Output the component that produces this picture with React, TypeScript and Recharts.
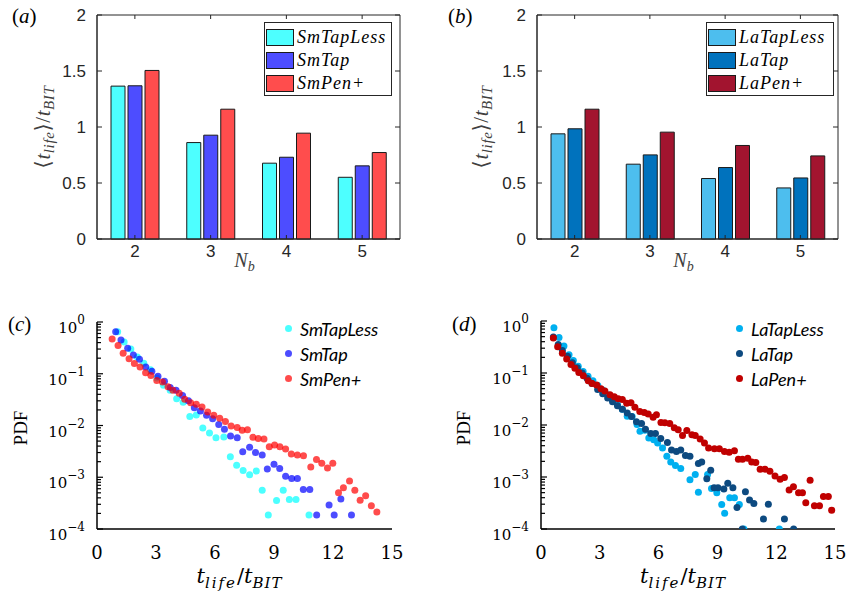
import React from 'react';
import { BarChart, Bar, XAxis, YAxis, ScatterChart, Scatter, Label, ReferenceArea } from 'recharts';

// mean lifetime per bubble count (panels a, b)
const nbCategories = ['2', '3', '4', '5'];
const smTapLessMean = [1.365, 0.861, 0.677, 0.551];
const smTapMean = [1.368, 0.927, 0.73, 0.653];
const smPenMean = [1.505, 1.159, 0.945, 0.772];
const laTapLessMean = [0.939, 0.668, 0.54, 0.456];
const laTapMean = [0.984, 0.751, 0.638, 0.545];
const laPenMean = [1.159, 0.954, 0.835, 0.742];
const meanTicks = [0, 0.5, 1, 1.5, 2];

// lifetime PDFs (panels c, d): [t_life/t_BIT, PDF]
const smTapLessPdf: [number, number][] = [
  [1.05, 0.65], [1.38, 0.41], [1.72, 0.3], [2.05, 0.21], [2.38, 0.16], [2.72, 0.12], [3.05, 0.083],
  [3.38, 0.06], [3.72, 0.048], [4.05, 0.033], [4.38, 0.028], [4.72, 0.015], [5.05, 0.016], [5.38, 0.0089],
  [5.72, 0.0072], [6.05, 0.0058], [6.45, 0.006], [6.78, 0.0025], [7.1, 0.0017], [7.43, 0.00135],
  [7.76, 0.00112], [8.1, 0.00132], [8.4, 0.00056], [8.71, 0.000186], [9.13, 0.000355], [9.47, 0.00056],
  [9.78, 0.00037], [10.12, 0.00037], [10.78, 0.000186],
];
const smTapPdf: [number, number][] = [
  [0.95, 0.65], [1.22, 0.45], [1.56, 0.31], [1.85, 0.23], [2.16, 0.19], [2.48, 0.135], [2.79, 0.112],
  [3.1, 0.089], [3.43, 0.072], [3.72, 0.054], [4.02, 0.048], [4.35, 0.038], [4.65, 0.03], [4.95, 0.022],
  [5.26, 0.019], [5.57, 0.0158], [5.88, 0.0135], [6.19, 0.0105], [6.48, 0.0085], [6.79, 0.0063],
  [7.13, 0.0058], [7.41, 0.0031], [7.76, 0.0038], [8.06, 0.003], [8.4, 0.0027], [8.66, 0.00145],
  [9.0, 0.00178], [9.29, 0.00148], [9.59, 0.00105], [9.9, 0.00095], [10.19, 0.00095], [10.49, 0.00058],
  [10.82, 0.00058], [11.17, 0.000186], [11.8, 0.00029], [12.06, 0.000186], [12.4, 0.00038], [12.94, 0.000186],
];
const smPenPdf: [number, number][] = [
  [0.77, 0.47], [1.07, 0.35], [1.33, 0.25], [1.63, 0.195], [1.9, 0.158], [2.19, 0.135], [2.47, 0.105],
  [2.74, 0.093], [3.04, 0.074], [3.33, 0.069], [3.61, 0.056], [3.86, 0.048], [4.18, 0.042], [4.46, 0.032],
  [4.76, 0.0275], [5.05, 0.0257], [5.34, 0.0229], [5.63, 0.0182], [5.94, 0.0158], [6.24, 0.0138],
  [6.53, 0.012], [6.82, 0.0098], [7.13, 0.0091], [7.38, 0.0081], [7.65, 0.0083], [7.93, 0.0059],
  [8.2, 0.0056], [8.49, 0.0055], [8.76, 0.0039], [9.03, 0.0042], [9.3, 0.0039], [9.59, 0.0035],
  [9.88, 0.0028], [10.19, 0.0027], [10.5, 0.0026], [10.87, 0.00158], [11.16, 0.0022], [11.43, 0.00186],
  [11.72, 0.00151], [11.99, 0.00186], [12.28, 0.0005], [12.53, 0.00063], [12.84, 0.00085], [13.11, 0.00056],
  [13.38, 0.00036], [13.66, 0.00044], [13.95, 0.00028], [14.23, 0.000214],
];
const laTapLessPdf: [number, number][] = [
  [0.66, 0.74], [0.92, 0.48], [1.17, 0.33], [1.43, 0.224], [1.65, 0.174], [1.9, 0.135], [2.15, 0.107],
  [2.4, 0.087], [2.65, 0.071], [2.9, 0.0575], [3.15, 0.047], [3.4, 0.038], [3.65, 0.03], [3.9, 0.025],
  [4.15, 0.02], [4.4, 0.0148], [4.65, 0.0145], [4.9, 0.0102], [5.05, 0.0076], [5.3, 0.0079], [5.5, 0.0056],
  [5.75, 0.0052], [5.95, 0.0045], [6.2, 0.0036], [6.42, 0.0025], [6.62, 0.00195], [6.86, 0.00166],
  [7.13, 0.00145], [7.6, 0.00089], [7.87, 0.00112], [8.03, 0.00051], [8.5, 0.00112], [8.7, 0.0006],
  [8.97, 0.0005], [9.22, 0.000295], [9.37, 0.0002], [9.63, 0.0004], [9.87, 0.0004], [10.12, 0.000295],
  [10.35, 0.0001], [12.16, 0.0001],
];
const laTapPdf: [number, number][] = [
  [0.63, 0.49], [0.88, 0.355], [1.09, 0.27], [1.35, 0.21], [1.6, 0.158], [1.85, 0.126], [2.1, 0.1],
  [2.35, 0.079], [2.6, 0.063], [2.89, 0.048], [3.15, 0.04], [3.4, 0.033], [3.65, 0.028], [3.9, 0.0234],
  [4.15, 0.02], [4.4, 0.017], [4.62, 0.0145], [4.87, 0.0115], [5.13, 0.0107], [5.33, 0.0083], [5.6, 0.0069],
  [5.84, 0.0069], [6.11, 0.0055], [6.45, 0.0046], [6.66, 0.0033], [6.91, 0.0031], [7.13, 0.0033],
  [7.37, 0.0026], [7.6, 0.0025], [8.03, 0.00182], [8.2, 0.00195], [8.46, 0.00093], [8.66, 0.00135],
  [8.83, 0.00062], [9.03, 0.00062], [9.33, 0.00059], [9.53, 0.00076], [9.79, 0.00062], [10.0, 0.00026],
  [10.27, 0.0001], [10.43, 0.00052], [10.64, 0.00036], [10.86, 0.00031], [11.35, 0.000155], [11.6, 0.0003],
  [12.42, 0.000155], [12.89, 0.0001],
];
const laPenPdf: [number, number][] = [
  [0.63, 0.47], [0.85, 0.32], [1.09, 0.24], [1.31, 0.186], [1.53, 0.145], [1.73, 0.123], [1.93, 0.102],
  [2.16, 0.089], [2.41, 0.071], [2.61, 0.063], [2.84, 0.059], [3.06, 0.05], [3.26, 0.045], [3.52, 0.038],
  [3.74, 0.035], [3.94, 0.032], [4.15, 0.031], [4.37, 0.0263], [4.59, 0.0269], [4.79, 0.0219], [5.04, 0.0182],
  [5.27, 0.0174], [5.47, 0.0162], [5.72, 0.0141], [5.89, 0.0158], [6.12, 0.0112], [6.32, 0.011], [6.57, 0.0107],
  [6.8, 0.0089], [7.0, 0.0081], [7.22, 0.0063], [7.44, 0.0078], [7.7, 0.0065], [7.87, 0.0063], [8.12, 0.0054],
  [8.34, 0.0045], [8.55, 0.0036], [8.85, 0.0035], [9.1, 0.0035], [9.36, 0.0031], [9.6, 0.003], [9.87, 0.0032],
  [10.07, 0.0022], [10.28, 0.0022], [10.55, 0.0023], [10.75, 0.00195], [10.96, 0.0019], [11.18, 0.00141],
  [11.43, 0.00141], [11.68, 0.00129], [11.94, 0.00105], [12.2, 0.00091], [12.42, 0.00098], [12.66, 0.00056],
  [12.88, 0.00065], [13.14, 0.0005], [13.34, 0.0005], [13.51, 0.00032], [13.73, 0.00087], [13.95, 0.00028],
  [14.21, 0.00028], [14.41, 0.00042], [14.66, 0.00042], [14.83, 0.00023],
];
const lifeTicks = [0, 3, 6, 9, 12, 15];
const pdfDecades = [1e-4, 1e-3, 1e-2, 1e-1, 1];

const AXIS = '#262626';
const SANS = '"Liberation Sans", Arial, sans-serif';
const SERIF = '"Liberation Serif", "DejaVu Serif", serif';

// decade ticks plus the log minor ticks between them
const pdfTicks = pdfDecades.flatMap((d, i) =>
  i === pdfDecades.length - 1 ? [d] : [1, 2, 3, 4, 5, 6, 7, 8, 9].map((k) => k * d)
);

const smBars = [
  { name: 'SmTapLess', values: smTapLessMean, color: '#4dffff' },
  { name: 'SmTap', values: smTapMean, color: '#4d4dff' },
  { name: 'SmPen+', values: smPenMean, color: '#ff4d4d' },
];
const laBars = [
  { name: 'LaTapLess', values: laTapLessMean, color: '#4dbeee' },
  { name: 'LaTap', values: laTapMean, color: '#0072bd' },
  { name: 'LaPen+', values: laPenMean, color: '#a2142f' },
];
const smDots = [
  { name: 'SmTapLess', points: smTapLessPdf, color: '#00ffff', opacity: 0.7 },
  { name: 'SmTap', points: smTapPdf, color: '#0000ff', opacity: 0.7 },
  { name: 'SmPen+', points: smPenPdf, color: '#ff0000', opacity: 0.7 },
];
const laDots = [
  { name: 'LaTapLess', points: laTapLessPdf, color: '#00b0f0', opacity: 1 },
  { name: 'LaTap', points: laTapPdf, color: '#0d4a80', opacity: 1 },
  { name: 'LaPen+', points: laPenPdf, color: '#c00000', opacity: 1 },
];

type BarSeries = typeof smBars;
type DotSeries = typeof smDots;

const PanelTag = ({ left, top, letter }: { left: number; top: number; letter: string }) => (
  <div style={{ position: 'absolute', left, top, fontFamily: SERIF, fontSize: 21, lineHeight: '22px', color: '#000' }}>
    (<i>{letter}</i>)
  </div>
);

function MeanBarPanel({ left, width, plotLeft, series, titleX, legendLeft, tag }: {
  left: number; width: number; plotLeft: number; series: BarSeries; titleX: number; legendLeft: number; tag: string;
}) {
  const height = 300;
  const top = 15;
  const bottom = 239;
  const right = width - 8 - (tag === 'a' ? 12 : 0);
  const rows = nbCategories.map((nb, i) => {
    const row: Record<string, string | number> = { nb };
    series.forEach((s) => (row[s.name] = s.values[i]));
    return row;
  });
  return (
    <div style={{ position: 'absolute', left, top: 0, width, height }}>
      <BarChart width={width} height={height} data={rows} barSize={14} barGap={3}
        margin={{ top, right: width - right, bottom: 0, left: 0 }}>
        <XAxis dataKey="nb" height={height - bottom} tickSize={0} tickMargin={0} tickLine={false} interval={0}
          axisLine={{ stroke: AXIS }}
          tick={(p: any) => (
            <g>
              <line x1={p.x} x2={p.x} y1={p.y} y2={p.y - 4} stroke={AXIS} />
              <line x1={p.x} x2={p.x} y1={top} y2={top + 4} stroke={AXIS} />
              <text x={p.x} y={p.y + 18} textAnchor="middle" fontFamily={SANS} fontSize={17} fill={AXIS}>
                {p.payload.value}
              </text>
            </g>
          )}>
          <Label content={() => (
            <text x={plotLeft + (right - plotLeft) / 2 - 4} y={267} textAnchor="middle" fontFamily={SERIF} fontSize={20} fill="#404040">
              <tspan fontStyle="italic">N</tspan>
              <tspan fontStyle="italic" fontSize={14} dy={4}>b</tspan>
            </text>
          )} />
        </XAxis>
        <YAxis type="number" domain={[0, 2]} ticks={meanTicks} width={plotLeft} tickSize={0} tickMargin={0}
          tickLine={false} interval={0} axisLine={{ stroke: AXIS }}
          tick={(p: any) => (
            <g>
              <line x1={p.x} x2={p.x + 5} y1={p.y} y2={p.y} stroke={AXIS} />
              <line x1={right} x2={right - 5} y1={p.y} y2={p.y} stroke={AXIS} />
              <text x={p.x - 11} y={p.y + 6} textAnchor="end" fontFamily={SANS} fontSize={17} fill={AXIS}>
                {p.payload.value}
              </text>
            </g>
          )}>
          <Label content={() => (
            <text transform={`translate(${titleX},${(top + bottom) / 2}) rotate(-90)`} textAnchor="middle"
              fontFamily={SERIF} fontSize={21} fill="#404040" letterSpacing={0.6}>
              ⟨<tspan fontStyle="italic">t</tspan>
              <tspan fontStyle="italic" fontSize={15} dy={4}>life</tspan>
              <tspan dy={-4}>⟩/</tspan>
              <tspan fontStyle="italic">t</tspan>
              <tspan fontStyle="italic" fontSize={15} dy={4}>BIT</tspan>
            </text>
          )} />
        </YAxis>
        <ReferenceArea y1={0} y2={2} fill="none" stroke={AXIS} strokeWidth={1} ifOverflow="visible" />
        {series.map((s) => (
          <Bar key={s.name} dataKey={s.name} fill={s.color} stroke="#1a1a1a" strokeWidth={1} isAnimationActive={false} />
        ))}
      </BarChart>
      <div style={{ position: 'absolute', left: legendLeft, top: 22, width: 128, height: 74, border: `1px solid ${AXIS}`,
        background: '#fff', boxSizing: 'border-box', padding: '3px 0 0 1px' }}>
        {series.map((s) => (
          <div key={s.name} style={{ display: 'flex', alignItems: 'center', height: 23 }}>
            <span style={{ width: 28, height: 17, background: s.color, border: '1px solid #1a1a1a', boxSizing: 'border-box' }} />
            <span style={{ marginLeft: 3, fontFamily: '"Liberation Serif", serif', fontStyle: 'italic', fontSize: 18,
              letterSpacing: 1, color: '#000' }}>
              {s.name}
            </span>
          </div>
        ))}
      </div>
      <PanelTag left={tag === 'a' ? 12 : 28} top={5} letter={tag} />
    </div>
  );
}

function PdfPanel({ left, width, plotLeft, plotRight, plotTop, series, pdfX, legendLeft, tag }: {
  left: number; width: number; plotLeft: number; plotRight: number; plotTop: number; series: DotSeries;
  pdfX: number; legendLeft: number; tag: string;
}) {
  const height = 293;
  const bottom = 229;
  return (
    <div style={{ position: 'absolute', left, top: 300, width, height }}>
      <ScatterChart width={width} height={height}
        margin={{ top: plotTop, right: width - plotRight, bottom: 0, left: 0 }}>
        <XAxis type="number" dataKey="x" domain={[0, 15]} ticks={lifeTicks} interval={0} height={height - bottom}
          tickSize={0} tickMargin={0} tickLine={false} axisLine={{ stroke: '#000', strokeWidth: 1.5 }}
          tick={(p: any) => (
            <text x={p.x} y={p.y + 30} textAnchor="middle" fontFamily='"DejaVu Serif", serif' fontSize={18} fill="#000">
              {p.payload.value}
            </text>
          )}>
          <Label content={() => (
            <text x={plotLeft + (plotRight - plotLeft) / 2 - 5} y={283} textAnchor="middle" fontFamily='"DejaVu Serif", serif'
              fontSize={21} fill="#000">
              <tspan fontStyle="italic">t</tspan>
              <tspan fontStyle="italic" fontSize={15} dy={5} letterSpacing={2}>life</tspan>
              <tspan dy={-5}>/</tspan>
              <tspan fontStyle="italic">t</tspan>
              <tspan fontStyle="italic" fontSize={15} dy={5} letterSpacing={1}>BIT</tspan>
            </text>
          )} />
        </XAxis>
        <YAxis type="number" dataKey="y" scale="log" domain={[1e-4, 1]} ticks={pdfTicks} interval={0}
          allowDataOverflow width={plotLeft} tickSize={0} tickMargin={0} tickLine={false}
          axisLine={{ stroke: '#000', strokeWidth: 1.5 }}
          tick={(p: any) => {
            const lg = Math.log10(p.payload.value);
            const exp = Math.round(lg);
            const major = Math.abs(lg - exp) < 1e-6;
            return (
              <g>
                <line x1={p.x} x2={p.x + (major ? 6 : 4)} y1={p.y} y2={p.y} stroke="#000" strokeWidth={1.2} />
                {major && (
                  <text x={p.x - 12} y={p.y + 11} textAnchor="end" fontFamily='"DejaVu Serif", serif' fontSize={15} fill="#000">
                    10<tspan dy={-9} fontSize={12}>{exp === 0 ? '0' : `\u2212${-exp}`}</tspan>
                  </text>
                )}
              </g>
            );
          }}>
          <Label content={() => (
            <text transform={`translate(${pdfX},${128}) rotate(-90)`} textAnchor="middle" fontFamily={SERIF} fontSize={19} fill="#000">
              PDF
            </text>
          )} />
        </YAxis>
        {series.map((s) => (
          <Scatter key={s.name} name={s.name} data={s.points.map(([x, y]) => ({ x, y }))} fill={s.color}
            isAnimationActive={false}
            shape={(p: any) => <circle cx={p.cx} cy={p.cy} r={3.5} fill={s.color} fillOpacity={s.opacity} />} />
        ))}
      </ScatterChart>
      <div style={{ position: 'absolute', left: legendLeft, top: 16 }}>
        {series.map((s) => (
          <div key={s.name} style={{ display: 'flex', alignItems: 'center', height: 25 }}>
            <span style={{ width: 7, height: 7, borderRadius: '50%', background: s.color, opacity: s.opacity }} />
            <span style={{ marginLeft: 8, fontFamily: 'Lato, "Open Sans", sans-serif', fontStyle: 'italic', fontSize: 18, color: '#000' }}>
              {s.name}
            </span>
          </div>
        ))}
      </div>
      <PanelTag left={tag === 'c' ? 8 : 32} top={13} letter={tag} />
    </div>
  );
}

export default function App() {
  return (
    <div style={{ position: 'absolute', left: 0, top: 0, width: 846, height: 593, background: '#fff', overflow: 'hidden' }}>
      <MeanBarPanel left={0} width={420} plotLeft={97} series={smBars} titleX={50} legendLeft={264} tag="a" />
      <MeanBarPanel left={420} width={426} plotLeft={117} series={laBars} titleX={68} legendLeft={286} tag="b" />
      <PdfPanel left={0} width={420} plotLeft={97} plotRight={392} plotTop={22} series={smDots} pdfX={27}
        legendLeft={285} tag="c" />
      <PdfPanel left={420} width={426} plotLeft={121} plotRight={415} plotTop={21} series={laDots} pdfX={50}
        legendLeft={316} tag="d" />
    </div>
  );
}
